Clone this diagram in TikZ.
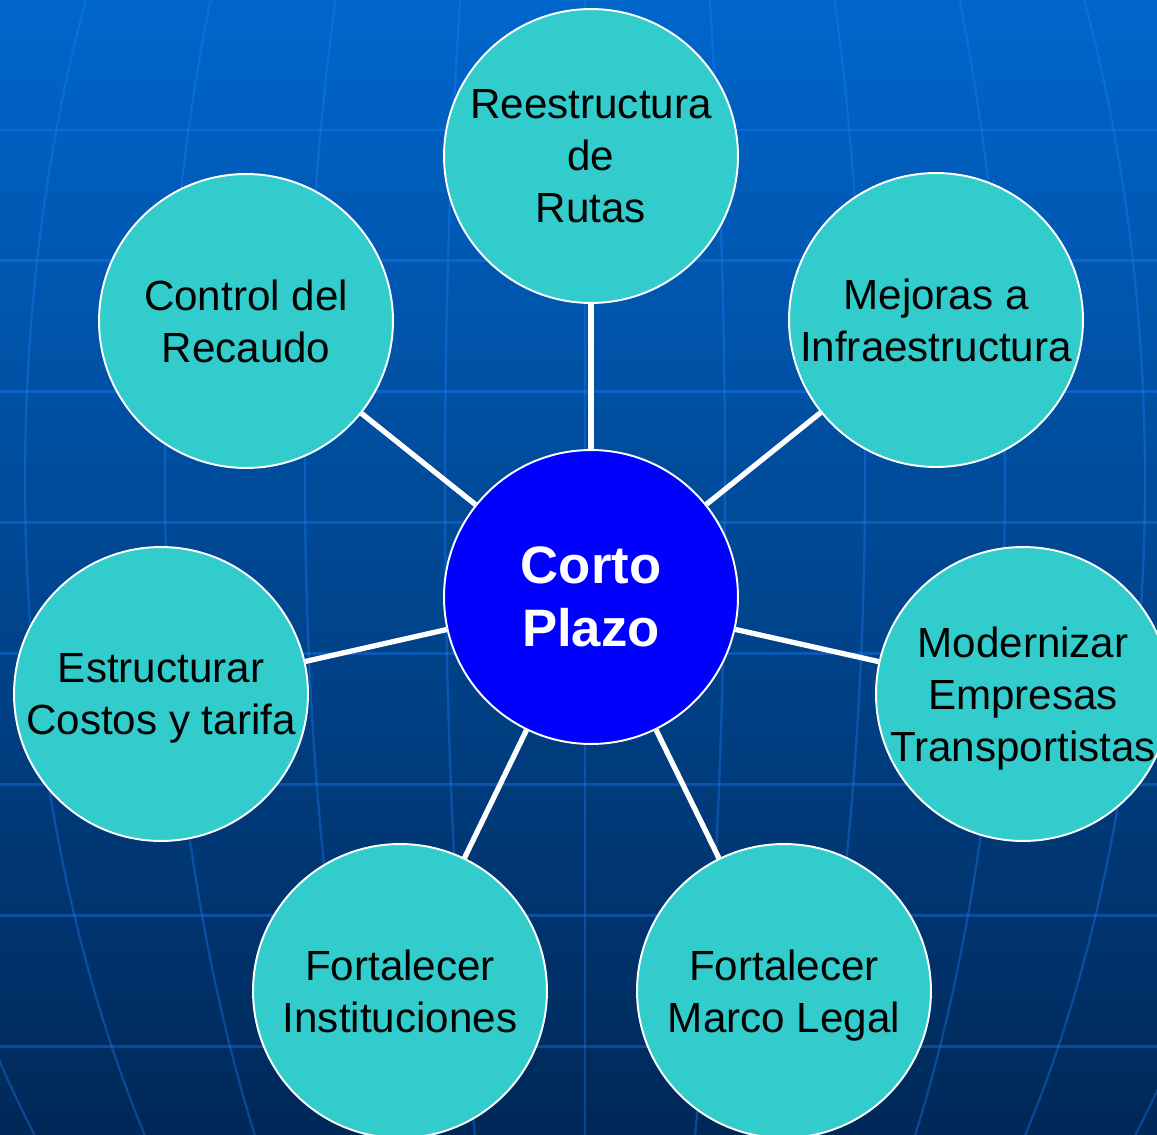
\documentclass[tikz,border=0pt]{standalone}
\usepackage{fontspec}
\setmainfont{Liberation Sans}
\usetikzlibrary{calc,positioning}
\definecolor{bgtop}{RGB}{0,102,204}
\definecolor{bgmid}{RGB}{0,74,150}
\definecolor{bgbot}{RGB}{0,40,88}
\definecolor{gridblue}{RGB}{30,130,255}
\definecolor{tealfill}{RGB}{51,204,204}

\begin{document}
\begin{tikzpicture}[x=0.02cm,y=-0.02cm]

\tikzset{tealnode/.style={shape=circle,fill=tealfill,draw=white,line width=1.1pt,minimum size=5.88cm,inner sep=-4pt,align=center,text depth=0pt,font=\fontsize{24}{29.6}\selectfont},
bluenode/.style={tealnode,fill=blue,text=white,font=\fontsize{30}{35.8}\selectfont\bfseries},
spoke/.style={draw=white,line width=3pt},
gridline/.style={draw=gridblue,opacity=0.35,line width=1.7pt}}

% Background
\useasboundingbox (0,0) rectangle (1157,1135);
\shade[top color=bgtop,middle color=bgmid,bottom color=bgbot] (0,0) rectangle (1157,1135);

% Grid
\begin{scope}
\clip (0,0) rectangle (1157,1135);
\foreach \k in {1,...,8} \draw[gridline] (0,130.9*\k-0.9) -- (1157,130.9*\k-0.9);
\foreach \k in {-5,...,5} \draw[gridline,line width=1.3pt] plot[domain=0:1135,samples=40,smooth] ({585+140*\k*sqrt(1-((\x-480)/1060)^2)},\x);
\end{scope}

% Centre node
\node[bluenode] (cp) at (591,597) {Corto\\Plazo};

% Outer nodes
\node[tealnode] (rutas) at (591,156) {Reestructura\\de\\Rutas};
\node[tealnode] (recaudo) at (246,321) {Control del\\Recaudo};
\node[tealnode] (infra) at (936,320) {Mejoras a\\Infraestructura};
\node[tealnode] (costos) at (161,694) {Estructurar\\Costos y tarifa};
\node[tealnode] (empresas) at (1023,694) {Modernizar\\Empresas\\Transportistas};
\node[tealnode] (inst) at (400,991) {Fortalecer\\Instituciones};
\node[tealnode] (legal) at (784,991) {Fortalecer\\Marco Legal};

% Spokes
\foreach \n in {rutas,recaudo,infra,costos,empresas,inst,legal} \draw[spoke] (cp) -- (\n);

\end{tikzpicture}
\end{document}
